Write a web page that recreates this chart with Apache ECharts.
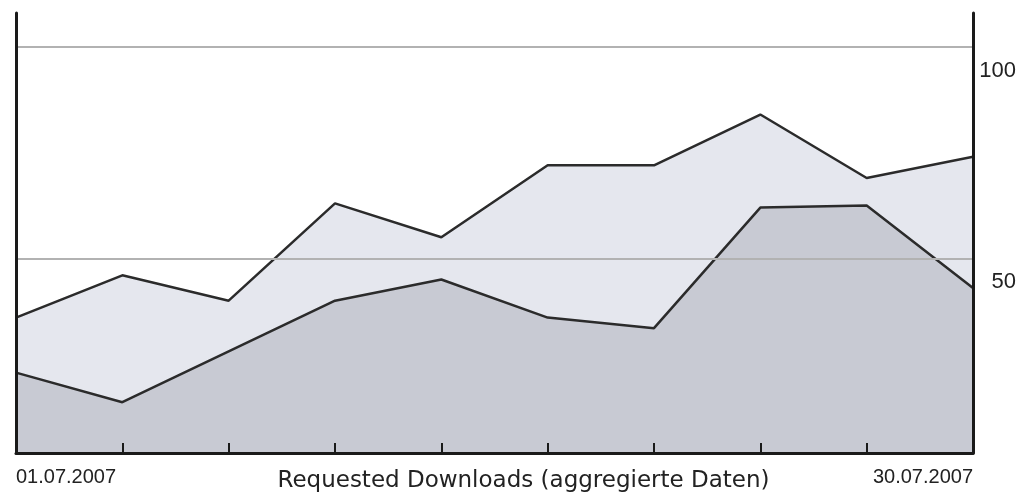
<!DOCTYPE html>
<html>
<head>
<meta charset="utf-8">
<script src="https://cdn.jsdelivr.net/npm/echarts@6/dist/echarts.min.js"></script>
<style>
  html, body { margin: 0; padding: 0; background: #fff; }
  #main { width: 1020px; height: 497px; }
</style>
</head>
<body>
<div id="main"></div>
<script>
// data
var days = ['01.07.2007', '04.07.2007', '07.07.2007', '11.07.2007', '14.07.2007',
            '17.07.2007', '20.07.2007', '24.07.2007', '27.07.2007', '30.07.2007'];
var upperSeries = [36, 46, 40, 63, 55, 72, 72, 84, 69, 74];
var lowerSeries = [23, 16, 28, 40, 45, 36, 33.5, 62, 62.5, 43];
var gridValues = [50, 100];
var axisTitle = 'Requested Downloads (aggregierte Daten)';

var narrow = '"Liberation Sans", Arial, sans-serif';

var chart = echarts.init(document.getElementById('main'));

chart.setOption({
  animation: false,
  backgroundColor: '#ffffff',
  grid: { left: 16, right: 47, top: 13, bottom: 44, containLabel: false, outerBoundsMode: 'none' },
  xAxis: {
    type: 'category',
    data: days,
    boundaryGap: false,
    z: 5,
    axisLine: { lineStyle: { color: '#1a1a1a', width: 3 } },
    axisTick: { show: true, interval: 0, inside: true, length: 10, lineStyle: { color: '#1a1a1a', width: 2 } },
    axisLabel: {
      interval: function (i) { return i === 0 || i === days.length - 1; },
      alignMinLabel: 'left',
      alignMaxLabel: 'right',
      margin: 14,
      fontFamily: narrow,
      fontSize: 20,
      color: '#222'
    },
    splitLine: { show: false },
    name: axisTitle,
    nameLocation: 'middle',
    nameMoveOverlap: false,
    nameGap: 17,
    nameTextStyle: {
      fontFamily: '"DejaVu Sans", sans-serif',
      fontSize: 23,
      color: '#222',
      padding: [0, 0, 0, 58]
    }
  },
  yAxis: [{
    type: 'value',
    position: 'right',
    min: 4,
    max: 108,
    interval: 2,
    z: 5,
    axisLine: { show: true, lineStyle: { color: '#1a1a1a', width: 3 } },
    axisTick: { show: false },
    splitLine: { show: false },
    axisLabel: {
      formatter: function (v) { return gridValues.indexOf(v) >= 0 ? String(v) : ''; },
      align: 'right',
      margin: 43,
      verticalAlign: 'top',
      lineHeight: 24,
      padding: [12, 0, 0, 0],
      fontFamily: narrow,
      fontSize: 22,
      color: '#222'
    }
  }, {
    type: 'value',
    position: 'left',
    min: 4,
    max: 108,
    z: 5,
    axisLine: { show: true, lineStyle: { color: '#1a1a1a', width: 3 } },
    axisTick: { show: false },
    axisLabel: { show: false },
    splitLine: { show: false }
  }],
  series: [{
    name: 'upper',
    type: 'line',
    data: upperSeries,
    symbol: 'none',
    lineStyle: { color: '#2b2b2b', width: 2.5 },
    areaStyle: { color: '#e5e7ee', opacity: 1, origin: 'start' }
  }, {
    name: 'lower',
    type: 'line',
    data: lowerSeries,
    symbol: 'none',
    lineStyle: { color: '#2b2b2b', width: 2.5 },
    areaStyle: { color: '#c8cad3', opacity: 1, origin: 'start' },
    markLine: {
      silent: true,
      symbol: 'none',
      label: { show: false },
      lineStyle: { color: '#b2b2b2', width: 2, type: 'solid' },
      data: gridValues.map(function (v) { return { yAxis: v }; })
    }
  }]
});
</script>
</body>
</html>
